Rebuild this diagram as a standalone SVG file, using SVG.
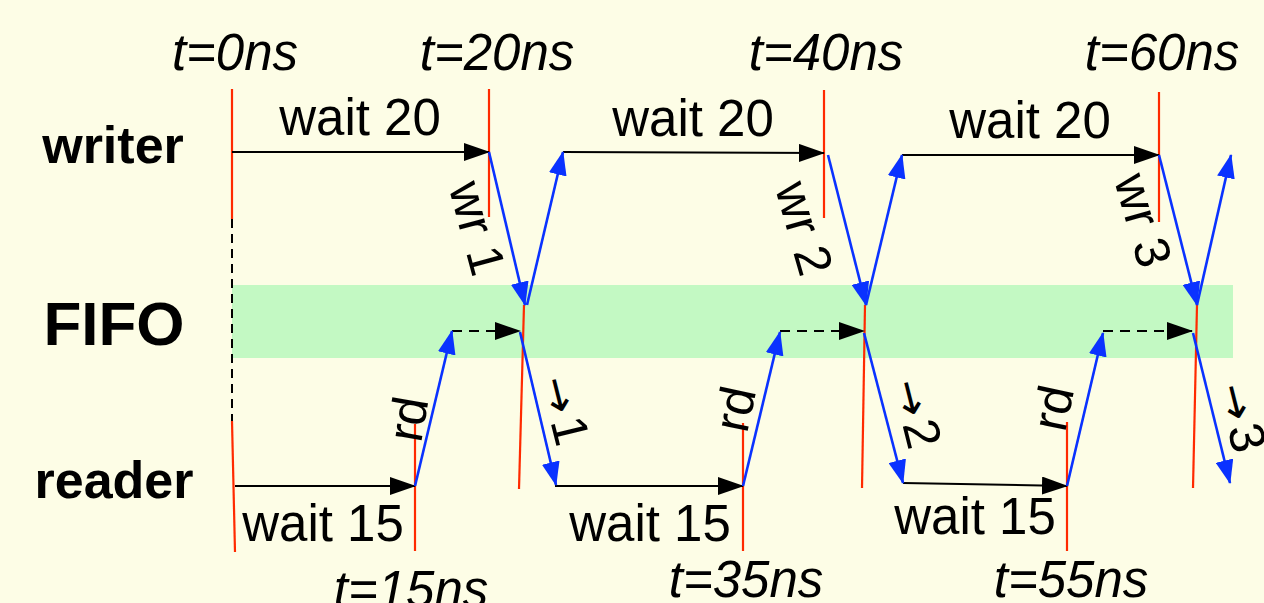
<svg xmlns="http://www.w3.org/2000/svg" width="1264" height="603" viewBox="0 0 1264 603">
  <style>
    text { font-family: "Liberation Sans", Arial, "DejaVu Sans", sans-serif; fill: #000; }
    .lane { font-weight: bold; font-size: 52px; text-anchor: middle; }
    .fifo { font-weight: bold; font-size: 62px; text-anchor: middle; }
    .time { font-style: italic; font-size: 51px; text-anchor: middle; }
    .lbl { font-size: 51px; text-anchor: middle; }
    .rot { font-size: 50px; text-anchor: middle; }
    .arr { font-family: "DejaVu Sans", sans-serif; font-size: 44px; }
    .red { stroke: #ff2a00; stroke-width: 2.2; fill: none; }
    .blk { stroke: #000; stroke-width: 2; fill: none; marker-end: url(#ah-black); }
    .dash { stroke: #000; stroke-width: 2; fill: none; stroke-dasharray: 10 7; marker-end: url(#ah-black); }
    .blue { stroke: #0a32ff; stroke-width: 2.6; fill: none; marker-end: url(#ah-blue); }
  </style>
  <defs>
    <marker id="ah-black" markerUnits="userSpaceOnUse" markerWidth="26" markerHeight="18" refX="25" refY="9" orient="auto">
      <path d="M0,0 L26,9 L0,18 z" fill="#000"/>
    </marker>
    <marker id="ah-blue" markerUnits="userSpaceOnUse" markerWidth="24" markerHeight="18" refX="23" refY="9" orient="auto">
      <path d="M0,0 L24,9 L0,18 z" fill="#0a32ff"/>
    </marker>
  </defs>
  <rect x="0" y="0" width="1264" height="603" fill="#fdfde6"/>

  <g id="fifo-band">
    <rect x="232" y="285" width="1001" height="73" fill="#c3f9c3"/>
  </g>

  <g id="lane-labels">
    <text class="lane" x="113" y="163">writer</text>
    <text class="fifo" x="114" y="345">FIFO</text>
    <text class="lane" x="114" y="498">reader</text>
  </g>

  <g id="time-markers">
    <line class="red" x1="232" y1="89" x2="232" y2="219"/>
    <line x1="232" y1="219" x2="232" y2="421" stroke="#000" stroke-width="2" stroke-dasharray="9 6"/>
    <line class="red" x1="232" y1="421" x2="235" y2="552"/>
    <line class="red" x1="489" y1="89" x2="489" y2="217"/>
    <line class="red" x1="524" y1="305" x2="519" y2="489"/>
    <line class="red" x1="824" y1="90" x2="824" y2="218"/>
    <line class="red" x1="865" y1="305" x2="862" y2="488"/>
    <line class="red" x1="1159" y1="92" x2="1159" y2="222"/>
    <line class="red" x1="1197" y1="305" x2="1193" y2="488"/>
    <line class="red" x1="415" y1="424" x2="415" y2="551"/>
    <line class="red" x1="743" y1="423" x2="743" y2="551"/>
    <line class="red" x1="1067" y1="422" x2="1067" y2="551"/>
  </g>

  <g id="connectors">
    <line class="blk" x1="232" y1="152" x2="489" y2="152"/>
    <line class="blk" x1="563" y1="152" x2="824" y2="153"/>
    <line class="blk" x1="902" y1="155" x2="1159" y2="155"/>
    <line class="blk" x1="235" y1="486" x2="415" y2="486"/>
    <line class="blk" x1="555" y1="486" x2="743" y2="486"/>
    <line class="blk" x1="903" y1="483" x2="1067" y2="486"/>
    <line class="dash" x1="452" y1="331" x2="520" y2="331"/>
    <line class="dash" x1="780" y1="331" x2="864" y2="331"/>
    <line class="dash" x1="1103" y1="331" x2="1192" y2="331"/>
    <line class="blue" x1="489" y1="152" x2="525" y2="305"/>
    <line class="blue" x1="527" y1="305" x2="563" y2="152"/>
    <line class="blue" x1="415" y1="486" x2="452" y2="331"/>
    <line class="blue" x1="520" y1="332" x2="556" y2="485"/>
    <line class="blue" x1="828" y1="155" x2="866" y2="305"/>
    <line class="blue" x1="866" y1="305" x2="902" y2="155"/>
    <line class="blue" x1="743" y1="486" x2="780" y2="332"/>
    <line class="blue" x1="864" y1="333" x2="903" y2="483"/>
    <line class="blue" x1="1159" y1="155" x2="1197" y2="305"/>
    <line class="blue" x1="1197" y1="305" x2="1231" y2="155"/>
    <line class="blue" x1="1067" y1="486" x2="1103" y2="333"/>
    <line class="blue" x1="1193" y1="333" x2="1230" y2="483"/>
  </g>

  <g id="time-labels">
    <text class="time" x="235" y="70">t=0ns</text>
    <text class="time" x="497" y="70">t=20ns</text>
    <text class="time" x="826" y="70">t=40ns</text>
    <text class="time" x="1162" y="70">t=60ns</text>
    <text class="time" x="411" y="607">t=15ns</text>
    <text class="time" x="746" y="597">t=35ns</text>
    <text class="time" x="1071" y="597">t=55ns</text>
  </g>

  <g id="wait-labels">
    <text class="lbl" x="360" y="135">wait 20</text>
    <text class="lbl" x="693" y="136">wait 20</text>
    <text class="lbl" x="1030" y="138">wait 20</text>
    <text class="lbl" x="323" y="541">wait 15</text>
    <text class="lbl" x="650" y="541">wait 15</text>
    <text class="lbl" x="975" y="534">wait 15</text>
  </g>

  <g id="op-labels">
    <text class="rot" transform="translate(478,228) rotate(75)" x="0" y="18">wr 1</text>
    <text class="rot" transform="translate(805,228) rotate(74)" x="0" y="18">wr 2</text>
    <text class="rot" transform="translate(1144,220) rotate(74)" x="0" y="18">wr 3</text>
    <text class="rot" transform="translate(408,419) rotate(-80)" x="0" y="17">rd</text>
    <text class="rot" transform="translate(735,409) rotate(-78)" x="0" y="17">rd</text>
    <text class="rot" transform="translate(1053,408) rotate(-78)" x="0" y="17">rd</text>
    <text class="rot" transform="translate(566,410) rotate(76)" x="0" y="18"><tspan class="arr">→</tspan><tspan dx="5">1</tspan></text>
    <text class="rot" transform="translate(918,413) rotate(76)" x="0" y="18"><tspan class="arr">→</tspan><tspan dx="5">2</tspan></text>
    <text class="rot" transform="translate(1243,417) rotate(76)" x="0" y="18"><tspan class="arr">→</tspan><tspan dx="5">3</tspan></text>
  </g>
</svg>
